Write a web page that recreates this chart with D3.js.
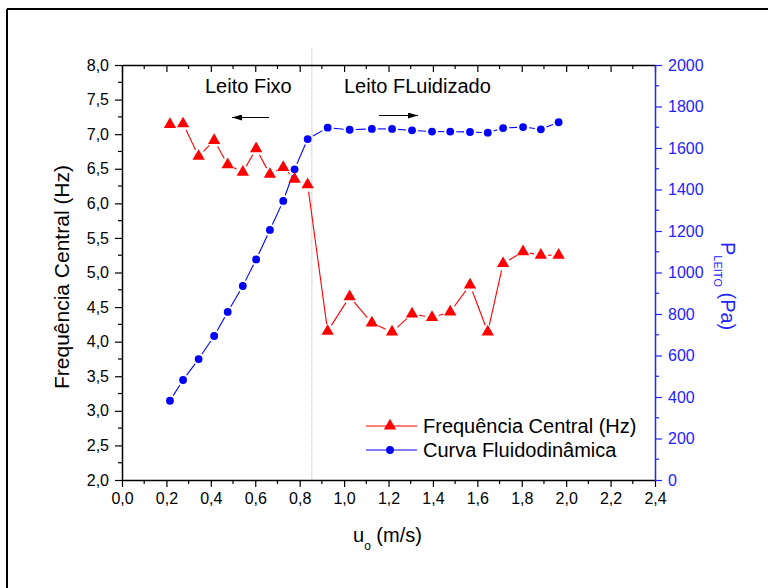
<!DOCTYPE html>
<html>
<head>
<meta charset="utf-8">
<script src="https://cdn.jsdelivr.net/npm/d3@7"></script>
<style>
  body { margin: 0; background: #fff; }
  svg { display: block; font-family: "Liberation Sans", Arial, sans-serif; }
</style>
</head>
<body>
<svg id="chart"></svg>
<script>
// velocidade superficial (m/s)
const uValues = [0.216, 0.275, 0.345, 0.415, 0.476, 0.544, 0.604, 0.666, 0.726, 0.777, 0.836,
                 0.926, 1.025, 1.125, 1.216, 1.306, 1.396, 1.478, 1.567, 1.647, 1.716, 1.806, 1.886, 1.966];
// frequencia central (Hz)
const freqValues = [7.14, 7.15, 6.68, 6.91, 6.56, 6.45, 6.79, 6.42, 6.52, 6.35, 6.27,
                    4.15, 4.65, 4.27, 4.14, 4.40, 4.35, 4.43, 4.82, 4.14, 5.13, 5.30, 5.25, 5.25];
// queda de pressao no leito (Pa)
const presValues = [382, 482, 583, 694, 810, 935, 1063, 1205, 1345, 1497, 1643,
                    1698, 1688, 1692, 1692, 1685, 1679, 1679, 1677, 1674, 1696, 1701, 1690, 1724];

const xTicks = [0, 0.2, 0.4, 0.6, 0.8, 1.0, 1.2, 1.4, 1.6, 1.8, 2.0, 2.2, 2.4];
const yLeftTicks = [2, 2.5, 3, 3.5, 4, 4.5, 5, 5.5, 6, 6.5, 7, 7.5, 8];
const yRightTicks = [0, 200, 400, 600, 800, 1000, 1200, 1400, 1600, 1800, 2000];
const uMinima = 0.855;

const width = 768;
const height = 588;
const plotLeft = 122, plotRight = 655, plotTop = 65, plotBottom = 480;
const red = "#ff0000";
const blue = "#0000ff";
const axisBlue = "#2323ff";
const comma = d3.format(".1f");
const fmt = (d) => comma(d).replace(".", ",");

const svg = d3.select("#chart").attr("width", width).attr("height", height);

// moldura externa
svg.append("line").attr("x1", 7).attr("x2", 7).attr("y1", 9).attr("y2", height)
    .attr("stroke", "#000").attr("stroke-width", 2);
svg.append("line").attr("x1", 7).attr("x2", width).attr("y1", 9).attr("y2", 9)
    .attr("stroke", "#000").attr("stroke-width", 2);

const xScale = d3.scaleLinear().domain([0, 2.4]).range([plotLeft, plotRight]);
const yScale = d3.scaleLinear().domain([2, 8]).range([plotBottom, plotTop]);
const y2Scale = d3.scaleLinear().domain([0, 2000]).range([plotBottom, plotTop]);

// linha pontilhada de minima fluidizacao
svg.append("line")
    .attr("x1", xScale(uMinima)).attr("x2", xScale(uMinima))
    .attr("y1", 48).attr("y2", plotBottom)
    .attr("stroke", "#b0b0b0").attr("stroke-width", 1)
    .attr("stroke-dasharray", "1,1");

const styleAxis = (g, color) => {
    g.selectAll("path").attr("stroke", color).attr("stroke-width", 1.5);
    g.selectAll("line").attr("stroke", color).attr("stroke-width", 1.2);
    g.selectAll("text").attr("fill", color).style("font-size", "16px")
        .style("font-family", "Liberation Sans, Arial, sans-serif");
};

// eixo x inferior
const xAxis = d3.axisBottom(xScale).tickValues(xTicks).tickFormat(fmt).tickSize(7).tickSizeOuter(0).tickPadding(6);
const gx = svg.append("g").attr("transform", "translate(0," + plotBottom + ")").call(xAxis);
styleAxis(gx, "#000");
gx.selectAll(".minor").data(d3.range(0.1, 2.4, 0.2)).enter().append("line")
    .attr("x1", (d) => xScale(d)).attr("x2", (d) => xScale(d))
    .attr("y1", 0).attr("y2", 4).attr("stroke", "#000").attr("stroke-width", 1.2);

// eixo x superior (espelho)
const xTop = d3.axisBottom(xScale).tickValues(xTicks).tickFormat("").tickSize(7).tickSizeOuter(0);
const gxt = svg.append("g").attr("transform", "translate(0," + plotTop + ")").call(xTop);
styleAxis(gxt, "#000");
gxt.selectAll(".minor").data(d3.range(0.1, 2.4, 0.2)).enter().append("line")
    .attr("x1", (d) => xScale(d)).attr("x2", (d) => xScale(d))
    .attr("y1", 0).attr("y2", 4).attr("stroke", "#000").attr("stroke-width", 1.2);

// eixo y esquerdo
const yAxis = d3.axisLeft(yScale).tickValues(yLeftTicks).tickFormat(fmt).tickSize(7).tickSizeOuter(0).tickPadding(6);
const gy = svg.append("g").attr("transform", "translate(" + plotLeft + ",0)").call(yAxis);
styleAxis(gy, "#000");
gy.selectAll(".minor").data(d3.range(2.25, 8, 0.5)).enter().append("line")
    .attr("y1", (d) => yScale(d)).attr("y2", (d) => yScale(d))
    .attr("x1", 0).attr("x2", -4).attr("stroke", "#000").attr("stroke-width", 1.2);

// eixo y direito
const y2Axis = d3.axisRight(y2Scale).tickValues(yRightTicks).tickFormat(d3.format("d")).tickSize(7).tickSizeOuter(0).tickPadding(6);
const gy2 = svg.append("g").attr("transform", "translate(" + plotRight + ",0)").call(y2Axis);
styleAxis(gy2, axisBlue);
gy2.selectAll(".minor").data(d3.range(100, 2000, 200)).enter().append("line")
    .attr("y1", (d) => y2Scale(d)).attr("y2", (d) => y2Scale(d))
    .attr("x1", 0).attr("x2", 4).attr("stroke", axisBlue).attr("stroke-width", 1.2);

// segmentos com intervalo junto aos marcadores
const drawGappedLine = (pts, color, gap) => {
    for (let i = 0; i < pts.length - 1; i++) {
        const [x1, y1] = pts[i];
        const [x2, y2] = pts[i + 1];
        const len = Math.hypot(x2 - x1, y2 - y1);
        if (len <= gap * 2) continue;
        const ux = (x2 - x1) / len, uy = (y2 - y1) / len;
        svg.append("line")
            .attr("x1", x1 + ux * gap).attr("y1", y1 + uy * gap)
            .attr("x2", x2 - ux * gap).attr("y2", y2 - uy * gap)
            .attr("stroke", color).attr("stroke-width", 1.1);
    }
};

const freqPts = uValues.map((u, i) => [xScale(u), yScale(freqValues[i])]);
const presPts = uValues.map((u, i) => [xScale(u), y2Scale(presValues[i])]);

drawGappedLine(presPts, blue, 6);
drawGappedLine(freqPts, red, 7);

const tri = d3.symbol(d3.symbolTriangle, 66);

svg.selectAll(".dot")
    .data(presPts)
    .enter()
    .append("circle")
    .attr("class", "dot")
    .attr("cx", (d) => d[0])
    .attr("cy", (d) => d[1])
    .attr("r", 3.9)
    .attr("fill", blue);

svg.selectAll(".tri")
    .data(freqPts)
    .enter()
    .append("path")
    .attr("class", "tri")
    .attr("d", tri)
    .attr("transform", (d) => "translate(" + d[0] + "," + d[1] + ")")
    .attr("fill", red);

// anotacoes
svg.append("text").attr("x", 205).attr("y", 93).style("font-size", "20px").text("Leito Fixo");
svg.append("text").attr("x", 344).attr("y", 93).style("font-size", "20px").text("Leito FLuidizado");

svg.append("defs").append("marker")
    .attr("id", "arrow").attr("viewBox", "0 0 10 6").attr("refX", 10).attr("refY", 3)
    .attr("markerWidth", 10).attr("markerHeight", 6).attr("markerUnits", "userSpaceOnUse")
    .attr("orient", "auto")
    .append("path").attr("d", "M0,0 L10,3 L0,6 Z").attr("fill", "#000");

svg.append("line").attr("x1", 269).attr("y1", 117.5).attr("x2", 232).attr("y2", 117.5)
    .attr("stroke", "#000").attr("stroke-width", 1.2).attr("marker-end", "url(#arrow)");
svg.append("line").attr("x1", 379).attr("y1", 115.5).attr("x2", 418).attr("y2", 115.5)
    .attr("stroke", "#000").attr("stroke-width", 1.2).attr("marker-end", "url(#arrow)");

// legenda
const legend = svg.append("g");
const legendItems = [
    { label: "Frequência Central (Hz)", color: red, shape: "tri", y: 426 },
    { label: "Curva Fluidodinâmica", color: blue, shape: "circle", y: 450 }
];
legendItems.forEach((item) => {
    legend.append("line").attr("x1", 366).attr("x2", 417).attr("y1", item.y).attr("y2", item.y)
        .attr("stroke", item.color).attr("stroke-width", 1.1);
    if (item.shape === "tri") {
        legend.append("path").attr("d", tri).attr("transform", "translate(390," + item.y + ")").attr("fill", item.color);
    } else {
        legend.append("circle").attr("cx", 390).attr("cy", item.y).attr("r", 3.9).attr("fill", item.color);
    }
    legend.append("text").attr("x", 423).attr("y", item.y + 7).style("font-size", "20px").text(item.label);
});

// titulos dos eixos
svg.append("text")
    .attr("transform", "translate(69,277) rotate(-90)")
    .attr("text-anchor", "middle")
    .style("font-size", "21px")
    .text("Frequência Central (Hz)");

const xt = svg.append("text").attr("x", 353).attr("y", 542).style("font-size", "20px");
xt.append("tspan").text("u");
xt.append("tspan").attr("dy", 8).style("font-size", "12px").text("o");
xt.append("tspan").attr("dy", -8).text(" (m/s)");

const yt = svg.append("text")
    .attr("transform", "translate(721,242) rotate(90)")
    .attr("fill", axisBlue)
    .style("font-size", "20px");
yt.append("tspan").text("P");
yt.append("tspan").attr("dy", 7).style("font-size", "11px").text("LEITO");
yt.append("tspan").attr("dy", -7).text(" (Pa)");
</script>
</body>
</html>
